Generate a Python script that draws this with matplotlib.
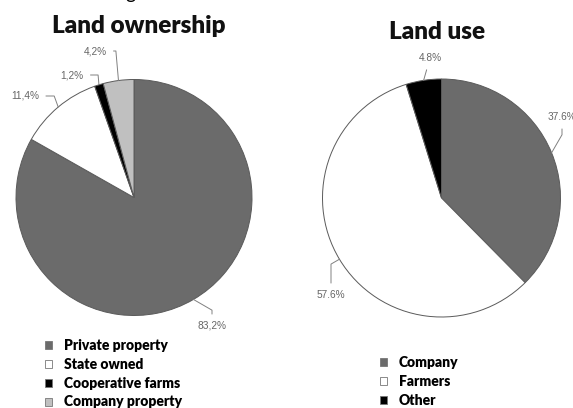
import numpy as np
import matplotlib.pyplot as plt
from matplotlib.patches import Patch

# data
own_labels = ['Private property', 'State owned', 'Cooperative farms', 'Company property']
own_values = [83.2, 11.4, 1.2, 4.2]
own_texts = ['83,2%', '11,4%', '1,2%', '4,2%']
own_colors = ['#6b6b6b', '#ffffff', '#000000', '#c0c0c0']

use_labels = ['Company', 'Farmers', 'Other']
use_values = [37.6, 57.6, 4.8]
use_texts = ['37.6%', '57.6%', '4.8%']
use_colors = ['#6b6b6b', '#ffffff', '#000000']

W, H = 573, 408
fig = plt.figure(figsize=(W / 100, H / 100), dpi=100)


def px(x, y):
    return (x / W, 1 - y / H)


def pie_axes(cx, cy, r):
    ax = fig.add_axes([(cx - r) / W, (H - cy - r) / H, 2 * r / W, 2 * r / H])
    ax.set_xlim(-1, 1)
    ax.set_ylim(-1, 1)
    ax.axis('off')
    return ax


def draw_pie(ax, values, colors, texts, label_pos, conn):
    wedges, _ = ax.pie(values, colors=colors, startangle=90, counterclock=False, radius=1,
                       wedgeprops=dict(edgecolor='#5a5a5a', linewidth=0.7))
    ax.set_xlim(-1, 1)
    ax.set_ylim(-1, 1)
    ax.set_aspect('auto')
    for w, t, pos, cs in zip(wedges, texts, label_pos, conn):
        mid = np.deg2rad((w.theta1 + w.theta2) / 2)
        xy = (np.cos(mid), np.sin(mid))
        ax.annotate(t, xy=xy, xytext=px(*pos), textcoords='figure fraction',
                    ha='center', va='center', fontsize=7.3, color='#666666',
                    family='Liberation Sans',
                    arrowprops=dict(arrowstyle='-', color='#808080', lw=0.7,
                                    connectionstyle=cs, shrinkA=3, shrinkB=0))


ax1 = pie_axes(134, 197.5, 118)
draw_pie(ax1, own_values, own_colors, own_texts,
         [(212, 326), (25, 96), (72, 75), (95, 51)],
         ['angle,angleA=90,angleB=150,rad=0', 'angle,angleA=0,angleB=110,rad=0',
          'angle,angleA=0,angleB=95,rad=0', 'angle,angleA=0,angleB=95,rad=0'])

ax2 = pie_axes(441.5, 198, 119)
draw_pie(ax2, use_values, use_colors, use_texts,
         [(562, 117), (331, 295), (430, 58)],
         ['angle,angleA=-90,angleB=60,rad=0', 'angle,angleA=90,angleB=30,rad=0',
          'arc3,rad=0'])

title_font = dict(family='Lato', fontweight='heavy', fontsize=17.5, color='#111111')
fig.text(*px(139, 26), 'Land ownership', ha='center', va='center', **title_font)
fig.text(*px(437, 32), 'Land use', ha='center', va='center', **title_font)
# bottom of a cut-off caption line above the chart
fig.text(*px(130, -1.5), 'g', ha='center', va='baseline', fontsize=14, family='Lato')


def legend(labels, colors, x, y):
    handles = [Patch(facecolor=c, edgecolor='#777777', linewidth=0.6) for c in colors]
    fig.legend(handles, labels, loc='upper left', bbox_to_anchor=px(x, y),
               frameon=False, borderpad=0, borderaxespad=0,
               handlelength=0.5, handleheight=0.5, handletextpad=0.85,
               labelspacing=0.42, prop=dict(family='Lato', weight='heavy', size=10))


legend(own_labels, own_colors, 45, 339)
legend(use_labels, use_colors, 380, 356)

fig.savefig('out.png', dpi=100)
